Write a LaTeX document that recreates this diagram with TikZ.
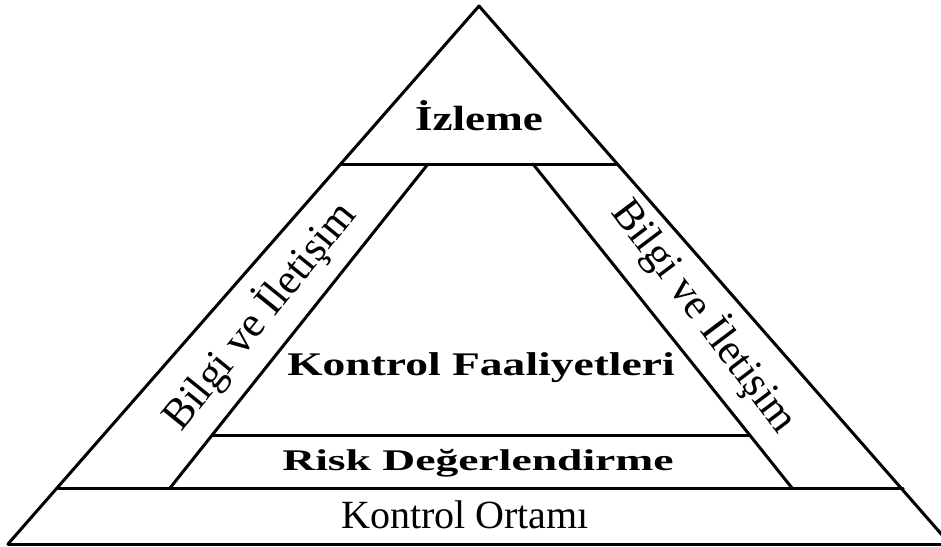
\documentclass[tikz,border=0pt]{standalone}
\usepackage{fontspec}
\setmainfont{Liberation Serif}
\tikzset{
  edge/.style={line width=3pt, line cap=round, line join=round},
  lbl/.style={inner sep=0pt, text=black}
}
\begin{document}
\begin{tikzpicture}[x=1pt,y=-1pt]
\useasboundingbox (0,0) rectangle (941,546);
\clip (0,0) rectangle (941,546);
% key points
\coordinate (A) at (479,6);
\coordinate (L) at (8,544);
\coordinate (R) at (950,544);
\coordinate (tl) at (341,164);
\coordinate (tr) at (617,164);
\coordinate (il) at (428,164);
\coordinate (ir) at (533,164);
\coordinate (bl) at (170,488);
\coordinate (br) at (792,488);
\coordinate (ml) at (58,488);
\coordinate (mr) at (903,488);
\coordinate (rl) at (212,435);
\coordinate (rr) at (750,435);
% outer triangle
\draw[edge] (L) -- (A) -- (R);
\draw[edge] (L) -- (R);
\draw[edge] (ml) -- (mr);
\draw[edge] (tl) -- (tr);
\draw[edge] (il) -- (bl);
\draw[edge] (ir) -- (br);
\draw[edge] (rl) -- (rr);
% labels
\node[lbl, anchor=base] (izl) at (479,130) {\fontsize{35}{40}\selectfont\bfseries\scalebox{1.29}[1]{İzleme}};
\node[lbl, anchor=base] (kf) at (481,375) {\fontsize{33}{38}\selectfont\bfseries\scalebox{1.38}[1]{Kontrol Faaliyetleri}};
\node[lbl, anchor=base] (rd) at (478,470) {\fontsize{30}{34}\selectfont\bfseries\scalebox{1.52}[1]{Risk Değerlendirme}};
\node[lbl, anchor=base] (ko) at (465,528) {\fontsize{40}{44}\selectfont Kontrol Ortamı};
\node[lbl, rotate=51] (bl1) at (259,316) {\fontsize{43}{46}\selectfont Bilgi ve İletişim};
\node[lbl, rotate=-53] (bl2) at (705,316) {\fontsize{43}{46}\selectfont Bilgi ve İletişim};
\end{tikzpicture}
\end{document}
